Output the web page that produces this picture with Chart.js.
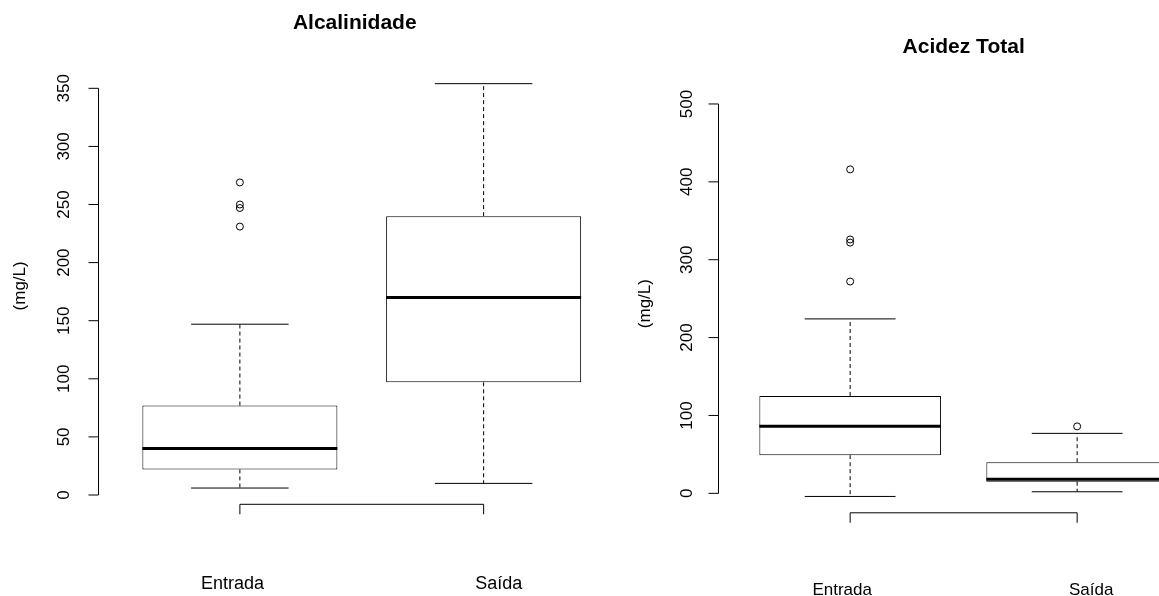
<!DOCTYPE html>
<html lang="pt">
<head>
    <meta charset="UTF-8">
    <title>Alcalinidade e Acidez Total</title>
    <script src="https://cdn.jsdelivr.net/npm/chart.js"></script>
    <style>
        html, body { margin: 0; padding: 0; background: #fff; overflow: hidden; }
        body { width: 1159px; height: 596px; position: relative; }
        .panel { position: absolute; top: 0; }
        #alcPanel { left: 0; }
        #acdPanel { left: 630px; }
    </style>
</head>
<body>
    <div class="panel" id="alcPanel"><canvas id="alcChart" width="630" height="596"></canvas></div>
    <div class="panel" id="acdPanel"><canvas id="acdChart" width="600" height="596"></canvas></div>

    <script>
        const groups = ['Entrada', 'Saída'];
        const groupPos = [1, 2];

        // Alcalinidade (mg/L): [whisker inf, Q1, mediana, Q3, whisker sup]
        const alcStats = [
            [6, 22, 40, 77, 147],
            [10, 97, 170, 240, 354]
        ];
        const alcOutliers = [[231, 247, 250, 269], []];
        const alcTicks = [0, 50, 100, 150, 200, 250, 300, 350];

        // Acidez Total (mg/L)
        const acdStats = [
            [-4, 49, 86, 125, 224],
            [2, 15, 18, 40, 77]
        ];
        const acdOutliers = [[272, 322, 326, 416], [86]];
        const acdTicks = [0, 100, 200, 300, 400, 500];

        const FONT = '"Liberation Sans", Arial, sans-serif';

        // R-style axes, title and group labels
        const rAxes = {
            id: 'rAxes',
            afterDraw(chart, args, o) {
                const { ctx, chartArea: a, scales: { x, y } } = chart;
                ctx.save();
                ctx.strokeStyle = '#000';
                ctx.fillStyle = '#000';
                ctx.lineWidth = 1;

                // y axis: line from first to last tick
                const ax = a.left;
                const yt = o.ticks.map(v => y.getPixelForValue(v));
                ctx.beginPath();
                ctx.moveTo(ax, yt[0]);
                ctx.lineTo(ax, yt[yt.length - 1]);
                yt.forEach(p => { ctx.moveTo(ax, p); ctx.lineTo(ax - 10, p); });
                ctx.stroke();

                ctx.font = '17px ' + FONT;
                ctx.textAlign = 'center';
                ctx.textBaseline = 'middle';
                o.ticks.forEach((v, i) => {
                    ctx.save();
                    ctx.translate(ax - o.tickOffset, yt[i]);
                    ctx.rotate(-Math.PI / 2);
                    ctx.fillText(String(v), 0, 0);
                    ctx.restore();
                });

                ctx.save();
                ctx.translate(ax - o.ylabOffset, (a.top + a.bottom) / 2 + o.ylabShift);
                ctx.rotate(-Math.PI / 2);
                ctx.fillText('(mg/L)', 0, 0);
                ctx.restore();

                // x axis: bracket between the groups at the plot bottom
                const xp = groupPos.map(v => x.getPixelForValue(v));
                const by = a.bottom;
                ctx.beginPath();
                ctx.moveTo(xp[0], by);
                ctx.lineTo(xp[xp.length - 1], by);
                xp.forEach(p => { ctx.moveTo(p, by); ctx.lineTo(p, by + 10); });
                ctx.stroke();

                ctx.font = o.labelSize + 'px ' + FONT;
                ctx.textBaseline = 'alphabetic';
                groups.forEach((g, i) => ctx.fillText(g, xp[i] + o.labelNudge[i], o.labelY));

                // title
                ctx.font = 'bold 21px ' + FONT;
                ctx.fillText(o.title, (a.left + a.right) / 2 + o.titleNudge, o.titleY);
                ctx.restore();
            }
        };

        function boxplot(canvasId, stats, outliers, ticks, ylim, padding, axOpts) {
            const boxes = stats.map((s, i) => ({ x: groupPos[i], y: [s[1], s[3]] }));
            const whiskers = [], caps = [], medians = [], points = [];
            stats.forEach((s, i) => {
                const p = groupPos[i];
                whiskers.push({ x: p, y: s[3] }, { x: p, y: s[4] }, { x: p, y: null },
                              { x: p, y: s[1] }, { x: p, y: s[0] }, { x: p, y: null });
                caps.push({ x: p - 0.2, y: s[4] }, { x: p + 0.2, y: s[4] }, { x: p, y: null },
                          { x: p - 0.2, y: s[0] }, { x: p + 0.2, y: s[0] }, { x: p, y: null });
                medians.push({ x: p - 0.4, y: s[2] }, { x: p + 0.4, y: s[2] }, { x: p, y: null });
            });
            outliers.forEach((arr, i) => arr.forEach(v => points.push({ x: groupPos[i], y: v })));

            const lineDefaults = { type: 'line', borderColor: '#000', borderWidth: 1, pointRadius: 0, fill: false, spanGaps: false, tension: 0 };

            return new Chart(document.getElementById(canvasId), {
                type: 'bar',
                data: {
                    datasets: [
                        { ...lineDefaults, label: 'outliers', type: 'scatter', data: points, pointRadius: 3.5, pointBorderWidth: 1, pointBorderColor: '#000', pointBackgroundColor: 'rgba(0,0,0,0)' },
                        { ...lineDefaults, label: 'mediana', data: medians, borderWidth: 3 },
                        { ...lineDefaults, label: 'limites', data: caps },
                        { ...lineDefaults, label: 'whiskers', data: whiskers, borderDash: [4, 3] },
                        { label: 'caixa', data: boxes, backgroundColor: '#fff', borderColor: '#000', borderWidth: 1, borderSkipped: false, categoryPercentage: 0.8, barPercentage: 1 }
                    ]
                },
                options: {
                    responsive: false,
                    animation: false,
                    events: [],
                    layout: { padding: padding },
                    scales: {
                        x: {
                            type: 'linear', display: false, min: 0.42, max: 2.58, offset: false,
                            afterBuildTicks: s => { s.ticks = groupPos.map(v => ({ value: v })); }
                        },
                        y: { type: 'linear', display: false, min: ylim[0], max: ylim[1] }
                    },
                    plugins: {
                        legend: { display: false },
                        tooltip: { enabled: false },
                        rAxes: { ticks: ticks, ...axOpts }
                    }
                },
                plugins: [rAxes]
            });
        }

        boxplot('alcChart', alcStats, alcOutliers, alcTicks, [-8, 368],
            { left: 98.5, right: 1.7, top: 67.4, bottom: 91.7 },
            { title: 'Alcalinidade', titleY: 29, titleNudge: -7, tickOffset: 34, ylabOffset: 78.5, ylabShift: 0,
              labelSize: 18, labelY: 589, labelNudge: [-7.4, 15.2] });

        boxplot('acdChart', acdStats, acdOutliers, acdTicks, [-25, 520],
            { left: 88.5, right: 21.2, top: 88.4, bottom: 83.2 },
            { title: 'Acidez Total', titleY: 53, titleNudge: 0, tickOffset: 31, ylabOffset: 73.5, ylabShift: 3,
              labelSize: 17, labelY: 595, labelNudge: [-8, 14] });
    </script>
</body>
</html>
